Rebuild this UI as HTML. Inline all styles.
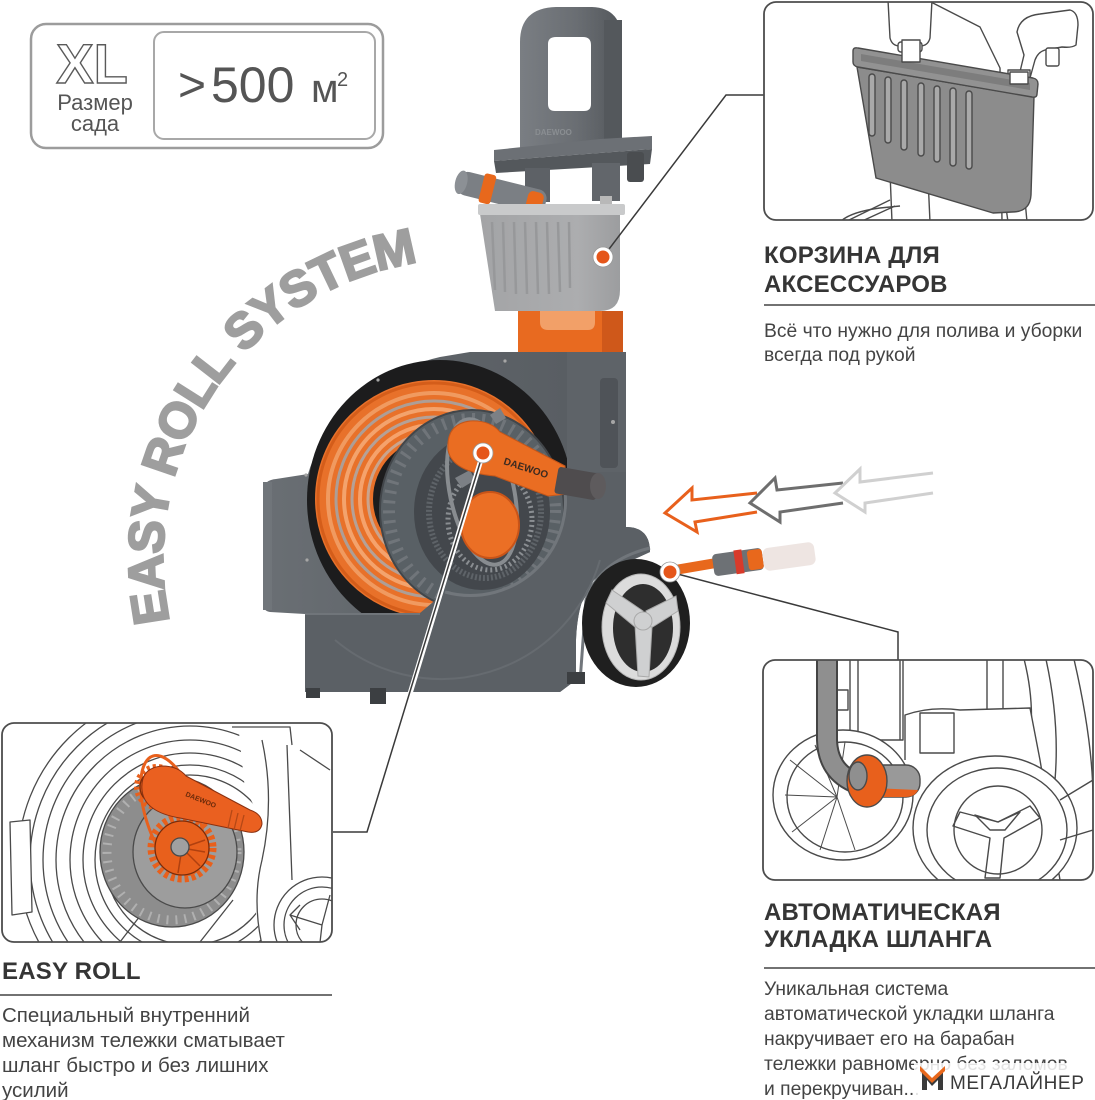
<!DOCTYPE html>
<html><head><meta charset="utf-8">
<style>
html,body{margin:0;padding:0;background:#fff;}
svg{display:block;}
text{font-family:"Liberation Sans", Arial, sans-serif;}
</style></head><body>
<svg width="1095" height="1100" viewBox="0 0 1095 1100" xmlns="http://www.w3.org/2000/svg">
<defs>
 <clipPath id="cpTR"><rect x="764" y="2" width="329" height="218" rx="12"/></clipPath>
 <clipPath id="cpBR"><rect x="763" y="660" width="330" height="220" rx="12"/></clipPath>
 <clipPath id="cpBL"><rect x="2" y="723" width="330" height="219" rx="12"/></clipPath>
 <clipPath id="cpCav"><rect x="300" y="350" width="275" height="263"/></clipPath>
 <path id="arcText" d="M169.6,621.4 A300,300 0 0 1 421.2,261.9"/>
 <linearGradient id="gHandle" x1="0" x2="1" y1="0" y2="0">
  <stop offset="0" stop-color="#7a7e83"/><stop offset="0.55" stop-color="#6a6e73"/><stop offset="1" stop-color="#53575b"/>
 </linearGradient>
 <linearGradient id="gBody" x1="0" x2="1" y1="0" y2="0">
  <stop offset="0" stop-color="#6a6f74"/><stop offset="0.5" stop-color="#5d6267"/><stop offset="1" stop-color="#565b60"/>
 </linearGradient>
 <linearGradient id="gBasket" x1="0" x2="1" y1="0" y2="0">
  <stop offset="0" stop-color="#a3a4a6"/><stop offset="0.7" stop-color="#acadaf"/><stop offset="1" stop-color="#9c9d9f"/>
 </linearGradient>
</defs>

<rect x="0" y="0" width="1095" height="1100" fill="#fff"/>

<!-- ===== Badge ===== -->
<rect x="31" y="24" width="352" height="124" rx="15" fill="#fff" stroke="#9c9c9c" stroke-width="2.5"/>
<rect x="154" y="32" width="221" height="107" rx="10" fill="#fff" stroke="#a8a8a8" stroke-width="2"/>
<text x="92" y="83" font-size="56" font-weight="bold" fill="#fff" stroke="#5a5a5a" stroke-width="1.4" text-anchor="middle">XL</text>
<text x="95" y="110" font-size="22" fill="#555" text-anchor="middle">Размер</text>
<text x="95" y="131" font-size="22" fill="#555" text-anchor="middle">сада</text>
<text x="178" y="101" font-size="48" fill="#555">&gt;</text>
<text x="211" y="102" font-size="50" fill="#555">500</text>
<text x="311" y="102" font-size="40" fill="#555">м</text>
<text x="337" y="86" font-size="20" fill="#555">2</text>

<!-- ===== EASY ROLL SYSTEM arc ===== -->
<text font-size="50" font-weight="bold" fill="#9e9e9e" stroke="#9e9e9e" stroke-width="2.2" letter-spacing="-1"><textPath href="#arcText">EASY ROLL SYSTEM</textPath></text>

<!-- ===== Product ===== -->
<!-- orange stand -->
<path d="M518,311 L622,311 L623,366 L518,366 Z" fill="#e86a20"/>
<path d="M540,311 L540,322 Q540,330 548,330 L588,330 Q595,330 595,322 L595,311 Z" fill="#f2a068"/>
<rect x="602" y="311" width="21" height="55" fill="#cf581a"/>

<!-- handle -->
<path fill-rule="evenodd" fill="url(#gHandle)" d="M520,150 L520,42 Q520,8 556,7 L592,7 Q622,8 622,42 L622,145 Z M548,44 Q548,37 556,37 L583,37 Q591,37 591,45 L591,104 Q591,111 584,111 L555,111 Q548,111 548,104 Z"/>
<rect x="604" y="20" width="18" height="125" fill="#54585c"/>
<text x="535" y="135" font-size="8" fill="#8a8e92" font-weight="bold">DAEWOO</text>
<!-- plate -->
<polygon points="494,150 600,139 652,136 652,149 494,161" fill="#6c7075"/>
<polygon points="494,161 652,149 650,164 496,173" fill="#54585c"/>
<!-- legs -->
<rect x="525" y="168" width="25" height="34" fill="#5d6166"/>
<rect x="592" y="163" width="28" height="38" fill="#62666b"/>
<rect x="600" y="196" width="12" height="10" fill="#b8b8b8"/>
<rect x="627" y="152" width="17" height="30" rx="3" fill="#4a4d50"/>
<!-- nozzle -->
<g transform="rotate(14 500 192)">
 <rect x="457" y="180" width="90" height="24" rx="9" fill="#7b7f84"/>
 <rect x="481" y="177" width="12" height="30" rx="3" fill="#e8681c"/>
 <ellipse cx="460" cy="192" rx="6" ry="12" fill="#8c9095"/>
 <rect x="528" y="183" width="16" height="20" rx="5" fill="#e8681c"/>
</g>
<!-- basket -->
<path d="M480,214 L620,214 L620,290 Q620,311 600,311 L495,311 Z" fill="url(#gBasket)"/>
<g stroke="#97989a" stroke-width="2.5">
 <line x1="492" y1="222" x2="495" y2="290"/><line x1="503" y1="222" x2="505" y2="292"/>
 <line x1="514" y1="222" x2="516" y2="294"/><line x1="525" y1="222" x2="527" y2="294"/>
 <line x1="536" y1="222" x2="538" y2="294"/><line x1="547" y1="222" x2="549" y2="294"/>
 <line x1="558" y1="222" x2="560" y2="292"/><line x1="569" y1="222" x2="570" y2="288"/>
</g>
<rect x="478" y="204" width="147" height="11" rx="2" fill="#c9cacb"/>

<!-- body silhouette -->
<path d="M305,692 L305,614 L270,612 Q263,611 263,603 L263,490 Q264,480 276,479 L308,474 C325,418 375,372 440,357 L470,352 L623,352 L626,527 Q650,527 650,552 L600,575 Q578,590 576,640 L576,680 L560,692 Z" fill="url(#gBody)"/>
<rect x="263" y="482" width="9" height="128" fill="#70757a"/>
<!-- black cavity -->
<g clip-path="url(#cpCav)">
 <ellipse cx="440" cy="500" rx="133" ry="140" fill="#1c1c1d"/>
 <!-- hose coil -->
 <circle cx="434" cy="499" r="90" fill="none" stroke="#e8712a" stroke-width="58"/>
 <g fill="none">
  <circle cx="434" cy="499" r="66" stroke="#c9a48e" stroke-width="3"/>
  <circle cx="434" cy="499" r="74" stroke="#f5a26c" stroke-width="4"/>
  <circle cx="434" cy="499" r="82" stroke="#b5a197" stroke-width="3"/>
  <circle cx="434" cy="499" r="90" stroke="#f3a36d" stroke-width="4"/>
  <circle cx="434" cy="499" r="98" stroke="#ad9e96" stroke-width="3"/>
  <circle cx="434" cy="499" r="106" stroke="#f09a60" stroke-width="4"/>
  <circle cx="434" cy="499" r="116" stroke="#d45d1a" stroke-width="3"/>
 </g>
</g>
<!-- reel -->
<ellipse cx="472" cy="510" rx="92" ry="100" fill="#596065" stroke="#42464a" stroke-width="2"/>
<ellipse cx="472" cy="510" rx="83" ry="91" fill="none" stroke="#70757a" stroke-width="12" stroke-dasharray="3 7"/>
<ellipse cx="482" cy="512" rx="68" ry="78" fill="#43474c"/>
<ellipse cx="485" cy="512" rx="56" ry="66" fill="none" stroke="#5e6368" stroke-width="6" stroke-dasharray="2 2"/>
<ellipse cx="490" cy="520" rx="42" ry="50" fill="none" stroke="#8a8e92" stroke-width="5" stroke-dasharray="2 3"/>
<ellipse cx="482" cy="492" rx="32" ry="74" transform="rotate(-12 482 492)" fill="none" stroke="#888c90" stroke-width="4"/>
<path d="M455,478 L470,470 L475,480 L462,488 Z M505,588 L516,598 L505,606 L496,598 Z M490,415 L500,408 L506,418 L496,424 Z" fill="#7c8085"/>
<!-- orange disk -->
<ellipse cx="490" cy="525" rx="29" ry="33" fill="#eb6f25" stroke="#c95418" stroke-width="2"/>
<!-- front cover -->
<path d="M305,613 L420,613 L445,592 A95,95 0 0 0 562,475 L568,470 L626,470 L626,527 Q650,527 650,552 L600,575 Q578,590 576,640 L576,680 L560,692 L305,692 Z" fill="#5b6065"/>
<path d="M445,592 A95,95 0 0 0 562,475" fill="none" stroke="#71767b" stroke-width="3"/>
<path d="M335,640 A165,165 0 0 0 600,560" fill="none" stroke="#666b70" stroke-width="2"/>
<line x1="305" y1="614" x2="420" y2="614" stroke="#70757a" stroke-width="2"/>
<!-- tower -->
<rect x="567" y="352" width="59" height="120" fill="#5e6368"/>
<rect x="600" y="378" width="18" height="90" rx="4" fill="#4f5358"/>
<path d="M650,548 Q600,560 586,600 L580,682" fill="none" stroke="#71767b" stroke-width="3"/>
<!-- feet -->
<rect x="370" y="688" width="16" height="16" fill="#3c3f42"/>
<rect x="567" y="672" width="18" height="12" fill="#3c3f42"/>
<rect x="306" y="688" width="14" height="10" fill="#3c3f42"/>
<!-- screws -->
<g fill="#a6a6a6"><circle cx="613" cy="422" r="2"/><circle cx="505" cy="361" r="1.6"/><circle cx="378" cy="380" r="1.6"/><circle cx="306" cy="475" r="1.6"/><circle cx="307" cy="560" r="1.6"/></g>
<!-- crank -->
<path d="M448,450 Q446,424 470,421 Q490,420 500,432 L565,466 L567,494 L548,496 L495,476 Q452,472 448,450 Z" fill="#ea6d22" stroke="#c4561a" stroke-width="1"/>
<rect x="556" y="470" width="42" height="27" rx="3" fill="#4f4c4e" transform="rotate(10 577 484)"/>
<ellipse cx="598" cy="486" rx="8" ry="13" fill="#5e5b5d"/>
<text x="503" y="464" font-size="10" font-weight="bold" fill="#3b2a20" transform="rotate(18 503 464)">DAEWOO</text>
<!-- wheel -->
<ellipse cx="636" cy="623" rx="54" ry="64" fill="#1f1f1f"/>
<ellipse cx="641" cy="627" rx="39" ry="53" fill="#dcdcdc" stroke="#b5b5b5"/>
<ellipse cx="643" cy="628" rx="30" ry="44" fill="#2e2e2e"/>
<g fill="#cfd0d1" stroke="#a9a9a9" stroke-width="1">
 <polygon points="643,611 612,590 606,603 635,627"/>
 <polygon points="646,611 676,596 678,611 651,628"/>
 <polygon points="635,625 652,627 649,677 638,676"/>
 <circle cx="643" cy="621" r="9"/>
</g>
<!-- hose outlet -->
<line x1="675" y1="570" x2="716" y2="563" stroke="#e8681c" stroke-width="10" stroke-linecap="round"/>
<g transform="rotate(-8 738 562)">
 <rect x="713" y="551" width="50" height="22" rx="4" fill="#6d7175"/>
 <rect x="735" y="550" width="8" height="24" fill="#d83a2a"/>
 <rect x="748" y="552" width="15" height="20" rx="3" fill="#e8681c"/>
</g>
<rect x="763" y="545" width="52" height="23" rx="6" fill="#eadfdb" opacity="0.8" transform="rotate(-8 789 556)"/>

<!-- arrows -->
<path d="M757,493 L692,500 L692,488 L665,513 L697,532 L695,522 L757,512" fill="none" stroke="#e8601c" stroke-width="3"/>
<path d="M843,483 L777,490 L775,478 L750,503 L780,522 L780,512 L843,503" fill="none" stroke="#6e6e6e" stroke-width="3"/>
<path d="M933,473 L860,482 L860,469 L835,493 L865,512 L865,503 L933,493" fill="none" stroke="#d0d0d0" stroke-width="3"/>

<!-- callout lines -->
<polyline points="603,257 726,95 764,95" fill="none" stroke="#3a3a3a" stroke-width="1.5"/>
<line x1="483" y1="453" x2="402" y2="720" stroke="#fff" stroke-width="5"/>
<polyline points="483,453 367,832 333,832" fill="none" stroke="#3a3a3a" stroke-width="1.5"/>
<polyline points="670,572 898,632 898,660" fill="none" stroke="#3a3a3a" stroke-width="1.5"/>
<!-- dots -->
<g>
 <circle cx="603" cy="257" r="10" fill="#fff" stroke="#999" stroke-width="0.8"/><circle cx="603" cy="257" r="6.5" fill="#e5561a"/>
 <circle cx="483" cy="453" r="10" fill="#fff" stroke="#999" stroke-width="0.8"/><circle cx="483" cy="453" r="6.5" fill="#e5561a"/>
 <circle cx="670" cy="572" r="10" fill="#fff" stroke="#999" stroke-width="0.8"/><circle cx="670" cy="572" r="6.5" fill="#e5561a"/>
</g>

<!-- ===== Top-right panel ===== -->
<rect x="764" y="2" width="329" height="218" rx="12" fill="#fff"/>
<g clip-path="url(#cpTR)" stroke="#4a4a4a" stroke-width="1.4" stroke-linejoin="round">
 <path d="M927,0 L980,27 L1000,68 L1002,222" fill="#fff"/>
 <path d="M888,0 L890,38 Q892,46 900,46 L920,46 Q928,46 930,38 L932,0 Z" fill="#fff"/>
 <rect x="898" y="42" width="24" height="10" rx="3" fill="#fff"/>
 <path d="M1017,32 Q1020,16 1040,14 L1070,10 Q1078,12 1078,25 L1076,45 Q1072,48 1062,47 L1045,50 Q1038,52 1035,60 L1030,78 L1018,80 L1024,55 Z" fill="#fff"/>
 <rect x="1046" y="48" width="13" height="18" rx="2" fill="#fff"/>
 <rect x="1008" y="70" width="22" height="14" fill="#fff"/>
 <path d="M840,222 Q850,212 880,208 L900,206" fill="none"/>
 <path d="M890,172 L892,222 M928,178 L930,222 M1005,200 L1008,222 M1025,200 L1027,222" fill="none"/>
 <path d="M845,222 L890,200 M860,222 L895,206" fill="none"/>
 <!-- basket -->
 <path d="M857,67 L1034,97 L1031,195 Q1030,212 1012,212 L993,213 L876,178 Z" fill="#8c8c8c"/>
 <path d="M853,51 Q853,47 858,48 L1033,78 Q1038,79 1038,84 L1037,94 Q1037,98 1032,97 L858,67 Q853,66 853,62 Z" fill="#929292"/>
 <path d="M861,54 L1030,83 L1030,90 L861,61 Z" fill="#7d7d7d" stroke="none"/>
 <rect x="902" y="40" width="18" height="22" fill="#fff"/>
 <rect x="1010" y="72" width="18" height="12" fill="#fff"/>
 <g fill="#a9a9a9">
  <rect x="869" y="74" width="6" height="62" rx="3"/>
  <rect x="885" y="77" width="6" height="66" rx="3"/>
  <rect x="901" y="80" width="6" height="70" rx="3"/>
  <rect x="918" y="83" width="6" height="73" rx="3"/>
  <rect x="934" y="86" width="6" height="76" rx="3"/>
  <rect x="950" y="88" width="6" height="78" rx="3"/>
  <rect x="966" y="91" width="6" height="78" rx="3"/>
 </g>
</g>
<rect x="764" y="2" width="329" height="218" rx="12" fill="none" stroke="#4d4d4d" stroke-width="1.8"/>

<!-- ===== Bottom-right panel ===== -->
<rect x="763" y="660" width="330" height="220" rx="12" fill="#fff"/>
<g clip-path="url(#cpBR)" stroke="#4a4a4a" stroke-width="1.4" fill="none" stroke-linejoin="round">
 <rect x="830" y="655" width="20" height="85" fill="#fff"/>
 <rect x="834" y="690" width="14" height="20"/>
 <rect x="858" y="655" width="45" height="85" fill="#fff"/>
 <line x1="900" y1="655" x2="900" y2="740"/>
 <path d="M987,655 L987,712 M1003,655 L1003,712"/>
 <path d="M1023,655 Q1035,700 1030,740 M1045,655 Q1060,720 1055,780 M1073,655 Q1093,740 1093,800"/>
 <!-- left wheel -->
 <ellipse cx="843" cy="795" rx="70" ry="65" fill="#fff"/>
 <ellipse cx="845" cy="797" rx="58" ry="55"/>
 <g stroke-width="1">
  <line x1="837" y1="797" x2="790" y2="760"/><line x1="837" y1="797" x2="785" y2="795"/>
  <line x1="837" y1="797" x2="792" y2="832"/><line x1="837" y1="797" x2="820" y2="850"/>
  <line x1="837" y1="797" x2="855" y2="850"/><line x1="837" y1="797" x2="815" y2="745"/>
  <line x1="837" y1="797" x2="845" y2="742"/>
 </g>
 <!-- wheel arch block -->
 <path d="M905,760 L905,715 Q930,706 960,710 L1030,708 L1040,760 L1060,880" fill="#fff"/>
 <rect x="920" y="713" width="34" height="40" fill="#fff"/>
 <!-- right wheel -->
 <ellipse cx="995" cy="828" rx="82" ry="72" fill="#fff"/>
 <ellipse cx="997" cy="830" rx="70" ry="62"/>
 <ellipse cx="998" cy="830" rx="44" ry="44"/>
 <polygon points="998,822 960,812 953,826 990,838 985,878 1000,878 1004,838 1040,818 1030,806"/>
 <polygon points="998,822 975,815 990,830 1005,830 1020,812"/>
 <path d="M1060,800 L1093,780 M1060,840 L1093,830"/>
 <!-- hose -->
 <path d="M827,655 L827,740 Q828,775 862,785" stroke="#444" stroke-width="22" stroke-linecap="round"/>
 <path d="M827,655 L827,740 Q828,775 862,785" stroke="#8f8f8f" stroke-width="18" stroke-linecap="round"/>
 <rect x="868" y="765" width="52" height="32" rx="14" fill="#999"/>
 <path d="M872,788 L918,790 Q915,797 905,797 L875,797 Z" fill="#e8601c" stroke="none"/>
 <ellipse cx="867" cy="781" rx="20" ry="26" fill="#e8601c"/>
 <ellipse cx="858" cy="776" rx="9" ry="14" fill="#8f8f8f"/>
</g>
<rect x="763" y="660" width="330" height="220" rx="12" fill="none" stroke="#4d4d4d" stroke-width="1.8"/>

<!-- ===== Bottom-left panel ===== -->
<rect x="2" y="723" width="330" height="219" rx="12" fill="#fff"/>
<g clip-path="url(#cpBL)" stroke="#4a4a4a" stroke-width="1.3" fill="none" stroke-linejoin="round">
 <circle cx="190" cy="860" r="172"/>
 <circle cx="190" cy="860" r="160"/>
 <circle cx="190" cy="860" r="147"/>
 <circle cx="190" cy="860" r="134"/>
 <circle cx="190" cy="860" r="120"/>
 <circle cx="190" cy="860" r="107"/>
 <circle cx="190" cy="860" r="95"/>
 <circle cx="190" cy="860" r="85"/>
 <path d="M10,822 L30,820 L32,912 L12,915 Z" fill="#fff"/>
 <!-- right tower cover -->
 <path d="M238,723 L338,723 L338,945 L262,945 Q250,900 258,860 Q266,820 245,790 Z" fill="#fff" stroke="none"/>
 <path d="M232,727 L290,727 L292,745 M262,740 Q275,800 262,860 Q252,900 262,945 M287,745 L292,880 M300,750 L330,770"/>
 <path d="M120,942 L160,890 M200,942 L233,900"/>
 <!-- lower right wheel -->
 <circle cx="322" cy="925" r="48" fill="#fff"/>
 <circle cx="322" cy="925" r="38"/>
 <circle cx="322" cy="925" r="26"/>
 <path d="M322,925 L290,915 M322,925 L330,895 M322,925 L318,960 M300,905 L290,915 L300,930"/>
 <!-- gray disk -->
 <ellipse cx="172" cy="852" rx="72" ry="75" fill="#8d8d8d"/>
 <ellipse cx="172" cy="852" rx="65" ry="68" stroke="#b0b0b0" stroke-width="9" stroke-dasharray="2 7"/>
 <ellipse cx="185" cy="852" rx="52" ry="56" fill="#9d9d9d"/>
 <!-- belt -->
 <ellipse cx="172" cy="815" rx="26" ry="62" transform="rotate(-18 172 815)" stroke="#e8601c" stroke-width="3"/>
 <!-- lower gear -->
 <circle cx="182" cy="848" r="31" stroke="#e8601c" stroke-width="7" stroke-dasharray="4 3"/>
 <circle cx="182" cy="848" r="27" fill="#e8601c" stroke="#7a2c0a"/>
 <g stroke="#b0400f" stroke-width="1.5"><line x1="182" y1="848" x2="205" y2="840"/><line x1="182" y1="848" x2="200" y2="866"/><line x1="182" y1="848" x2="178" y2="873"/><line x1="182" y1="848" x2="205" y2="852"/></g>
 <circle cx="180" cy="847" r="9" fill="#a0a0a0"/>
 <!-- upper gear -->
 <circle cx="157" cy="787" r="20" stroke="#e8601c" stroke-width="6" stroke-dasharray="3 3"/>
 <circle cx="157" cy="787" r="17" fill="#e8601c" stroke="#7a2c0a"/>
 <!-- crank arm -->
 <path d="M142,790 Q140,768 162,766 Q178,766 186,776 L250,810 Q262,814 262,824 Q260,834 248,832 L180,818 Q144,812 142,790 Z" fill="#ea6020" stroke="#8a3010" stroke-width="1"/>
 <path d="M232,810 L228,828 M238,813 L234,830 M244,815 L240,831" stroke="#b54816"/>
 <text x="185" y="796" font-size="7" font-weight="bold" fill="#6a2a0a" stroke="none" transform="rotate(22 185 796)">DAEWOO</text>
</g>
<rect x="2" y="723" width="330" height="219" rx="12" fill="none" stroke="#4d4d4d" stroke-width="1.8"/>

<!-- ===== Texts ===== -->
<g fill="#353535" font-weight="bold" font-size="24" letter-spacing="0.2">
 <text x="764" y="263">КОРЗИНА ДЛЯ</text>
 <text x="764" y="292">АКСЕССУАРОВ</text>
 <text x="764" y="920">АВТОМАТИЧЕСКАЯ</text>
 <text x="764" y="947">УКЛАДКА ШЛАНГА</text>
 <text x="2" y="979">EASY ROLL</text>
</g>
<g stroke="#444" stroke-width="1.5">
 <line x1="764" y1="305" x2="1095" y2="305"/>
 <line x1="764" y1="968" x2="1095" y2="968"/>
 <line x1="0" y1="995" x2="332" y2="995"/>
</g>
<g fill="#444" font-size="19.3">
 <text x="764" y="337">Всё что нужно для полива и уборки</text>
 <text x="764" y="361">всегда под рукой</text>
 <text x="764" y="995">Уникальная система</text>
 <text x="764" y="1020">автоматической укладки шланга</text>
 <text x="764" y="1045">накручивает его на барабан</text>
 <text x="764" y="1070">тележки равномерно без заломов</text>
 <text x="764" y="1095">и перекручиван...</text>
</g>
<g fill="#444" font-size="20.5">
 <text x="2" y="1022">Специальный внутренний</text>
 <text x="2" y="1047">механизм тележки сматывает</text>
 <text x="2" y="1072">шланг быстро и без лишних</text>
 <text x="2" y="1097">усилий</text>
</g>

<!-- logo -->
<rect x="914" y="1063" width="181" height="37" fill="#fff" opacity="0.85"/>
<polygon points="922,1090 922,1070 932,1080 943,1070 943,1090 938,1090 938,1080 932,1086 927,1080 927,1090" fill="#3a3a3a"/>
<polygon points="920,1066 932,1078 945,1066 945,1071 932,1083 920,1071" fill="#e8681c"/>
<text x="950" y="1089" font-size="19" fill="#3a3a3a" letter-spacing="0.6">МЕГАЛАЙНЕР</text>
</svg>
</body></html>
